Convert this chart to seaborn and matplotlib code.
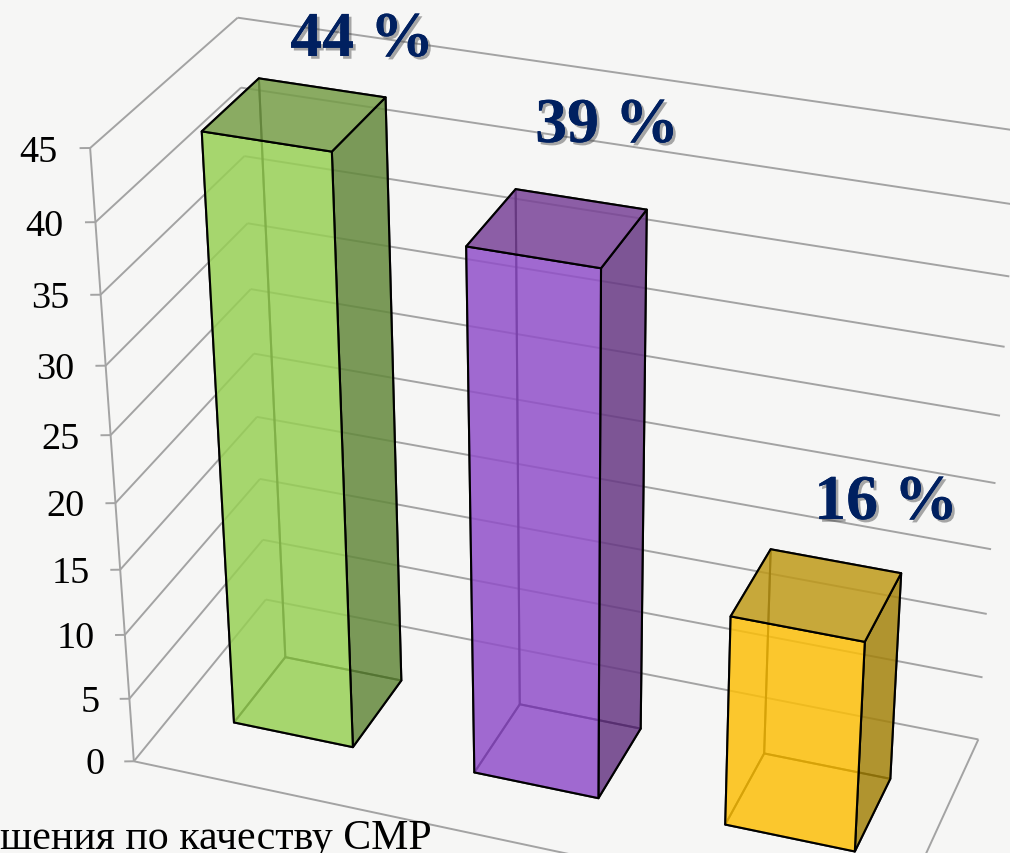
import numpy as np
import matplotlib
matplotlib.use('Agg')
import matplotlib.pyplot as plt
import matplotlib.patheffects as pe
from mpl_toolkits.mplot3d.art3d import Line3DCollection
import seaborn as sns

# ---- data ----
categories = ['A', 'B', 'C']
values = [44, 39, 16]
value_labels = ['44 %', '39 %', '16 %']
z_ticks = [0, 5, 10, 15, 20, 25, 30, 35, 40, 45]
caption = 'шения по качеству СМР'

# ---- style ----
BG = '#f6f6f5'
GRID = '#a3a3a3'
FRONT = ['#a6d66e', '#a069d0', '#fcc82d']
TOP = ['#8aab62', '#8c5ea6', '#c8a83a']
SIDE = ['#7a9a58', '#7d5595', '#b0942f']
FILL_ALPHA = 0.84
GAP_X, GAP_Y = 0.25, 0.30
LABEL_XY = [(362, 42), (607, 128), (886, 505)]   # pixel centres of the value labels
NAVY = '#002060'
WIDTH, HEIGHT = 1010, 854

# fitted camera of the original 3-D chart: (x, y, z, 1) -> pixels
CAMERA = np.array([
    [2.343404e+02, 1.517449e+02, -1.154186e+00, 1.338437e+02],
    [3.431764e+01, -1.170331e+02, -1.393056e+01, 7.622709e+02],
    [-2.132065e-02, 7.444515e-02, -2.029134e-03, 1.0],
])

sns.set_theme(style='white')
plt.rcParams['font.family'] = ['Liberation Serif', 'DejaVu Serif']


def through(hex_color, alpha=FILL_ALPHA, bg=BG):
    """RGBA that composites to hex_color over the background."""
    t = np.array(matplotlib.colors.to_rgb(hex_color))
    b = np.array(matplotlib.colors.to_rgb(bg))
    return (*np.clip((t - (1 - alpha) * b) / alpha, 0, 1), alpha)


def to_axes(x, y, z):
    """World point -> axes fraction through the camera."""
    h = CAMERA @ np.array([x, y, z, 1.0])
    return h[0] / h[2] / WIDTH, 1 - h[1] / h[2] / HEIGHT


fig = plt.figure(figsize=(WIDTH / 100, HEIGHT / 100), dpi=100, facecolor=BG)
ax = fig.add_axes([0, 0, 1, 1], projection='3d', facecolor=BG)
ax.set_xticks([])
ax.set_yticks([])
ax.set_zticks([])
ax.set_axis_off()
ax.computed_zorder = False

M = np.vstack([CAMERA[0], CAMERA[1], CAMERA[2] - [0, 0, 0, 0.5], CAMERA[2]])
ax.get_proj = lambda: M
ax.apply_aspect = lambda position=None: None
ax.viewLim.intervalx = (0, WIDTH)
ax.viewLim.intervaly = (HEIGHT, 0)

n = len(categories)
segments = []
for z in z_ticks:
    segments += [[(-0.034, -0.0107, z), (0, 0, z)], [(0, 0, z), (0, 1, z)], [(0, 1, z), (n, 1, z)]]
    tx, ty = to_axes(-0.105, -0.033, z - 0.2)
    ax.text2D(tx, ty, str(z), transform=ax.transAxes, ha='right', va='center',
              fontsize=27.5, color='black', zorder=4)
segments.append([(0, 0, z_ticks[0]), (0, 0, z_ticks[-1])])
segments += [[(0, 0, 0), (n, 0, 0)], [(n, 0, 0), (n, 1, 0)]]
ax.add_collection3d(Line3DCollection(segments, colors=GRID, linewidths=1.4, zorder=1.5))

# faces: -z, +z, -y, +y, -x, +x  (hidden ones carry only an outline)
xs = np.arange(n) + GAP_X
clear = (0, 0, 0, 0)
face_colors, edge_colors = [], []
hidden_edge = (0, 0, 0, 0.75)
for f, t, s in zip(FRONT, TOP, SIDE):
    face_colors += [clear, through(t), through(f), clear, clear, through(s)]
    edge_colors += [hidden_edge, 'black', 'black', hidden_edge, hidden_edge, 'black']
ax.bar3d(xs, np.full(n, GAP_Y), np.zeros(n), 1 - 2 * GAP_X, 1 - 2 * GAP_Y, values,
         color=face_colors, edgecolor=edge_colors, linewidth=1.5, shade=False, zorder=2)

for (px, py), txt in zip(LABEL_XY, value_labels):
    ax.text2D(px / WIDTH, 1 - py / HEIGHT, txt, transform=ax.transAxes, ha='center', va='center',
              fontsize=46, fontweight='bold', color=NAVY, zorder=5,
              path_effects=[pe.withSimplePatchShadow(offset=(2, -2), shadow_rgbFace='#444444',
                                                     alpha=0.45), pe.Normal()])

ax.text2D(0, 5 / HEIGHT, caption, transform=ax.transAxes, ha='left', va='baseline',
          fontsize=30.2, color='black', zorder=5)

fig.savefig('out.png', dpi=100, facecolor=BG)
